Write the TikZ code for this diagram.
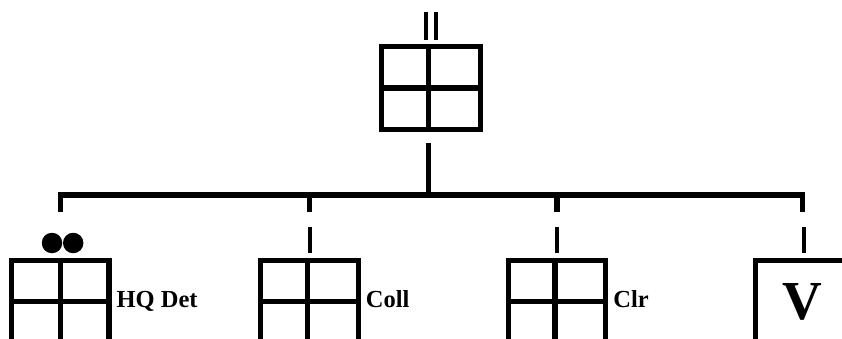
\documentclass[tikz,border=0pt]{standalone}
\usepackage{fontspec}
\setmainfont{Liberation Serif}
\usetikzlibrary{calc}
\begin{document}
\begin{tikzpicture}[x=1pt,y=-1pt,
  thickline/.style={line width=5.3pt},
  tickline/.style={line width=4pt},
  unitbox/.style={draw, line width=5.3pt, rectangle, inner sep=0pt, outer sep=0pt,
                  minimum width=97.5pt, minimum height=82pt},
  lbl/.style={font=\fontsize{24.5}{24.5}\selectfont\bfseries, inner sep=0pt, outer sep=0pt, anchor=base west},
  dot/.style={circle, fill=black, inner sep=0pt, minimum size=20.5pt},
]
\useasboundingbox (0,0) rectangle (842,339);
\fill[white] (0,0) rectangle (842,339);
\clip (0,0) rectangle (842,339);

% boxes
\node[unitbox, minimum width=98.8pt, minimum height=82.8pt] (T) at (431.1,88.1) {};
\node[unitbox] (HQ) at (60.3,301.7) {};
\node[unitbox] (CO) at (309.5,301.7) {};
\node[unitbox] (CL) at (557,301.7) {};
\node[unitbox, minimum width=93.4pt, font=\fontsize{55}{55}\selectfont\bfseries] (V) at (802.2,301.7) {V};

% dividers
\draw[thickline] ([xshift=-2.8pt]T.north) -- ([xshift=-2.8pt]T.south);
\draw[thickline] (T.west) -- (T.east);
\draw[thickline] ([xshift=0.4pt]HQ.north) -- ([xshift=0.4pt]HQ.south);
\draw[thickline] (HQ.west) -- (HQ.east);
\draw[thickline] ([xshift=-1.8pt]CO.north) -- ([xshift=-1.8pt]CO.south);
\draw[thickline] (CO.west) -- (CO.east);
\draw[thickline] ([xshift=-2pt]CL.north) -- ([xshift=-2pt]CL.south);
\draw[thickline] (CL.west) -- (CL.east);

% labels
\node[lbl] (HQl) at ([xshift=7.6pt,yshift=-5.3pt]HQ.east) {HQ Det};
\node[lbl] (COl) at ([xshift=7.6pt,yshift=-5.3pt]CO.east) {Coll};
\node[lbl] (CLl) at ([xshift=7.6pt,yshift=-5.8pt]CL.east) {Clr};

% size symbols
\draw[tickline] ($(T.north)+(-4.9,-35)$) -- ($(T.north)+(-4.9,-6.7)$);
\draw[tickline] ($(T.north)+(4.9,-35)$) -- ($(T.north)+(4.9,-6.7)$);
\node[dot] (d1) at ($(HQ.north)+(-8.3,-17.7)$) {};
\node[dot] (d2) at ($(HQ.north)+(12.9,-17.7)$) {};

% connectors
\coordinate (bus) at (0,195);
\coordinate (tdrop) at ($(T.south)+(-2.4,13.2)$);
\coordinate (aHQ) at ($(HQ.north)+(0.5,0)$);
\coordinate (aCO) at (CO.north);
\coordinate (aCL) at (CL.north);
\coordinate (aV) at (V.north);
\draw[thickline] (tdrop) -- (tdrop |- bus);
\draw[thickline] ($(aHQ)+(0,-49)$) -- (aHQ |- bus) -- (aV |- bus) -- ($(aV)+(0,-49)$);
\draw[thickline] (aCO |- bus) -- ($(aCO)+(0,-49)$);
\draw[thickline] (aCL |- bus) -- ($(aCL)+(0,-49)$);
\draw[tickline] ($(aCO)+(0.8,-34)$) -- ($(aCO)+(0.8,-7.4)$);
\draw[tickline] ($(aCL)+(0,-34)$) -- ($(aCL)+(0,-7.4)$);
\draw[tickline] ($(aV)+(1.5,-34)$) -- ($(aV)+(1.5,-7.4)$);
\end{tikzpicture}
\end{document}
